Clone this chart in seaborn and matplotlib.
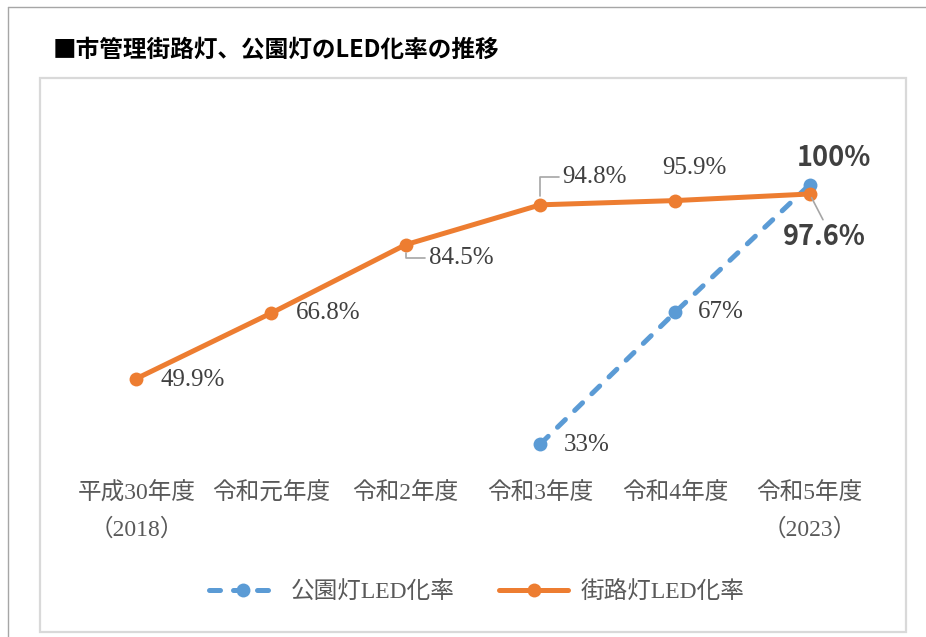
import matplotlib

matplotlib.use("Agg")
import matplotlib.pyplot as plt
from matplotlib.lines import Line2D
from matplotlib.patches import Rectangle
import pandas as pd
import seaborn as sns

# data
years = ["平成30年度\n（2018）", "令和元年度", "令和2年度", "令和3年度", "令和4年度", "令和5年度\n（2023）"]
street_rate = [49.9, 66.8, 84.5, 94.8, 95.9, 97.6]
street_labels = ["49.9%", "66.8%", "84.5%", "94.8%", "95.9%", "97.6%"]
park_years = ["令和3年度", "令和4年度", "令和5年度\n（2023）"]
park_rate = [33, 67, 100]
park_labels = ["33%", "67%", "100%"]

ORANGE = "#ED7D31"
BLUE = "#5B9BD5"
TXT = "#404040"

sns.set_style("white")
plt.rcParams["font.family"] = ["Liberation Serif", "Noto Sans CJK JP"]

W, H = 926, 637
fig = plt.figure(figsize=(W / 100, H / 100), dpi=100)
ax = fig.add_axes([69 / W, 1 - 475 / H, (877 - 69) / W, (475 - 146) / H])

street = pd.DataFrame({"x": range(len(years)), "rate": street_rate})
park = pd.DataFrame({"x": [years.index(y) for y in park_years], "rate": park_rate})

sns.lineplot(data=park, x="x", y="rate", ax=ax, color=BLUE, lw=3.6,
             linestyle=(0, (2.2, 2.6)), dash_capstyle="round",
             marker="o", markersize=10, markeredgewidth=0,
             label="公園灯LED化率", clip_on=False, zorder=3)
sns.lineplot(data=street, x="x", y="rate", ax=ax, color=ORANGE, lw=3.6,
             marker="o", markersize=10, markeredgewidth=0,
             label="街路灯LED化率", clip_on=False, zorder=4)

ax.set_xlim(-0.5, len(years) - 0.5)
ax.set_ylim(25, 110)
ax.set_xticks(range(len(years)), years)
ax.tick_params(axis="x", length=0, pad=5, labelsize=17, labelcolor="#595959")
for t in ax.get_xticklabels():
    t.set_linespacing(1.8)
ax.set_yticks([])
ax.set_xlabel("")
ax.set_ylabel("")
for s in ax.spines.values():
    s.set_visible(False)
ax.patch.set_alpha(0)

# data labels: (dx, dy) in pixels, alignment, leader line
lead = dict(arrowstyle="-", color="#A6A6A6", lw=1.2, shrinkA=0, shrinkB=6)
street_pos = [
    ((24, -1), "left", None),
    ((25, 0), "left", None),
    ((23, -13), "left", dict(lead, connectionstyle="angle,angleA=0,angleB=90,rad=0", relpos=(0, 0.5))),
    ((22, 28), "left", dict(lead, connectionstyle="angle,angleA=0,angleB=90,rad=0", relpos=(0, 0.5))),
    ((19, 33), "center", None),
    ((15, -43), "center", dict(lead, relpos=(0.5, 1), shrinkB=3)),
]
for i, (lab, (off, ha, ap)) in enumerate(zip(street_labels, street_pos)):
    bold = i == len(street_labels) - 1
    ax.annotate(lab, (i, street_rate[i]), xytext=off, textcoords="offset pixels",
                ha=ha, va="center", color=TXT,
                fontsize=19.5 if bold else 18,
                fontweight="bold" if bold else "normal",
                family=["Noto Sans CJK JP"] if bold else None,
                arrowprops=ap, zorder=5)

park_pos = [((23, -1), "left"), ((23, 0), "left"), ((24, 27), "center")]
for j, (lab, (off, ha)) in enumerate(zip(park_labels, park_pos)):
    bold = j == len(park_labels) - 1
    ax.annotate(lab, (park["x"][j], park_rate[j]), xytext=off, textcoords="offset pixels",
                ha=ha, va="center", color=TXT,
                fontsize=19.5 if bold else 18,
                fontweight="bold" if bold else "normal",
                family=["Noto Sans CJK JP"] if bold else None, zorder=5)

leg = ax.legend(loc="center", bbox_to_anchor=(477 / W, 1 - 592 / H),
                bbox_transform=fig.transFigure, ncol=2, frameon=False,
                fontsize=17, handlelength=2.9, handletextpad=0.55, columnspacing=1.9)
for t in leg.get_texts():
    t.set_color("#595959")

# title and frames
fig.text(53 / W, 1 - 50 / H, "■市管理街路灯、公園灯のLED化率の推移", ha="left", va="center",
         fontsize=17, fontweight="bold", color="black", family=["Noto Sans CJK JP"])
fig.add_artist(Rectangle((40 / W, 1 - 632 / H), (906 - 40) / W, (632 - 78) / H,
                         transform=fig.transFigure, fill=False, edgecolor="#D9D9D9", lw=1.6))
fig.add_artist(Line2D([8 / W, 8 / W], [0, 1 - 7 / H], transform=fig.transFigure, color="#A6A6A6", lw=1))
fig.add_artist(Line2D([8 / W, 1], [1 - 7 / H, 1 - 7 / H], transform=fig.transFigure, color="#A6A6A6", lw=1))

fig.savefig("out.png", dpi=100)
